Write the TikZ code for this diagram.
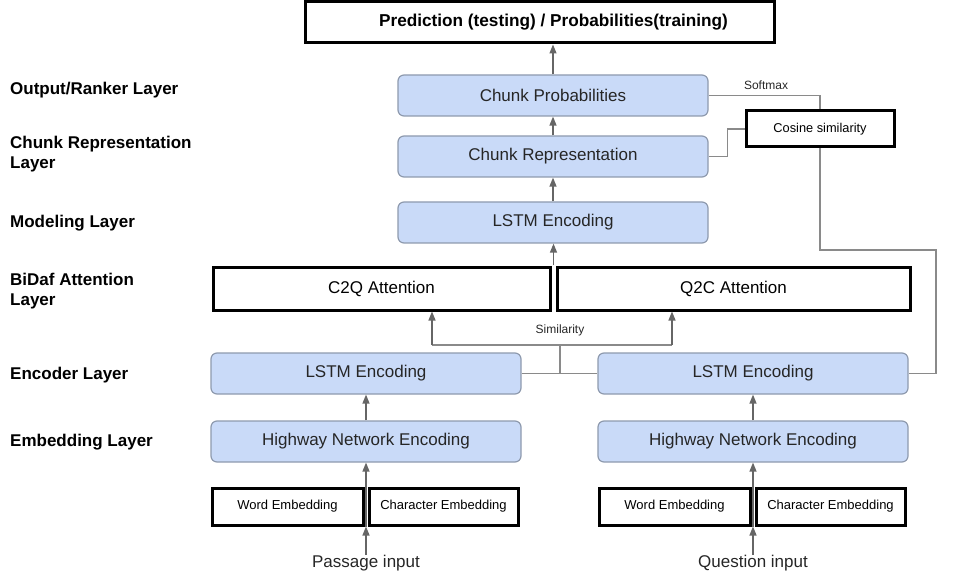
\documentclass[tikz,border=0pt]{standalone}
\usepackage{fontspec}
\setmainfont{Liberation Sans}
\usetikzlibrary{arrows.meta,calc}
\definecolor{boxblue}{HTML}{C9DAF8}
\definecolor{boxedge}{HTML}{8E9AAE}
\definecolor{arrowgray}{HTML}{666666}
\definecolor{linegray}{HTML}{8A8A8A}
\begin{document}
\begin{tikzpicture}[x=1pt,y=-1pt,
  bluebox/.style={draw=boxedge, fill=boxblue, rounded corners=6pt, line width=1.2pt, inner sep=0pt, font=\fontsize{17}{20}\selectfont, text=black!85},
  blackbox/.style={draw=black, line width=3pt, inner sep=0pt, fill=white},
  layerlabel/.style={anchor=west, align=left, font=\fontsize{17}{20}\selectfont\bfseries, inner sep=0pt},
  upArrow/.style={draw=arrowgray, line width=1.3pt, -{Triangle[length=9pt,width=7pt]}},
  link/.style={draw=linegray, line width=1.1pt},
  small/.style={font=\fontsize{12}{14}\selectfont, inner sep=0pt, text=black!85}
]
\useasboundingbox (0,0) rectangle (955,577);

% layer labels
\node[layerlabel] (l1) at (10,90) {Output/Ranker Layer};
\node[layerlabel] (l2) at (10,154) {Chunk Representation\\Layer};
\node[layerlabel] (l3) at (10,223) {Modeling Layer};
\node[layerlabel] (l4) at (10,291) {BiDaf Attention\\Layer};
\node[layerlabel] (l5) at (10,375) {Encoder Layer};
\node[layerlabel] (l6) at (10,442) {Embedding Layer};

% boxes
\node[blackbox, minimum width=469pt, minimum height=41pt, font=\fontsize{17.2}{20}\selectfont\bfseries] (pred) at (539.5,22.5) {\hspace*{28pt}Prediction (testing) / Probabilities(training)};
\node[bluebox, minimum width=310pt, minimum height=41pt] (cprob) at (553,95.5) {Chunk Probabilities};
\node[bluebox, minimum width=310pt, minimum height=41pt] (crep) at (553,156.5) {Chunk Representation};
\node[bluebox, minimum width=310pt, minimum height=41pt] (model) at (553,222.5) {LSTM Encoding};
\node[blackbox, minimum width=337pt, minimum height=43pt, font=\fontsize{17}{20}\selectfont] (c2q) at (381.5,288.5) {C2Q Attention};
\node[blackbox, minimum width=353pt, minimum height=43pt, font=\fontsize{17}{20}\selectfont] (q2c) at (733.5,288.5) {Q2C Attention};
\node[bluebox, minimum width=310pt, minimum height=41pt] (lstmL) at (366,373.5) {LSTM Encoding};
\node[bluebox, minimum width=310pt, minimum height=41pt] (lstmR) at (753,373.5) {LSTM Encoding};
\node[bluebox, minimum width=310pt, minimum height=41pt] (hwL) at (366,441.5) {Highway Network Encoding};
\node[bluebox, minimum width=310pt, minimum height=41pt] (hwR) at (753,441.5) {Highway Network Encoding};
\node[blackbox, minimum width=151pt, minimum height=37pt, font=\fontsize{13}{15}\selectfont] (wordL) at (287.5,506.5) {Word Embedding};
\node[blackbox, minimum width=149pt, minimum height=37pt, font=\fontsize{13}{15}\selectfont] (charL) at (443.5,506.5) {Character Embedding};
\node[blackbox, minimum width=151pt, minimum height=37pt, font=\fontsize{13}{15}\selectfont] (wordR) at (674.5,506.5) {Word Embedding};
\node[blackbox, minimum width=149pt, minimum height=37pt, font=\fontsize{13}{15}\selectfont] (charR) at (830.5,506.5) {Character Embedding};
\node[blackbox, minimum width=148pt, minimum height=36pt, font=\fontsize{12.8}{15}\selectfont] (cos) at (820,129) {Cosine similarity};
\node[inner sep=0pt, font=\fontsize{17}{20}\selectfont, text=black!85] (pin) at (366,563) {Passage input};
\node[inner sep=0pt, font=\fontsize{17}{20}\selectfont, text=black!85] (qin) at (753,563) {Question input};

% vertical arrows
\draw[upArrow] (cprob.north) -- (cprob.north |- pred.south);
\draw[upArrow] (crep.north) -- (cprob.south);
\draw[upArrow] (model.north) -- (crep.south);
\coordinate (attmid) at ($(c2q.north east)!.5!(q2c.north west)$);
\draw[upArrow] (attmid) -- (attmid |- model.south);
\draw[upArrow] (hwL.north) -- (lstmL.south);
\draw[upArrow] (hwR.north) -- (lstmR.south);
\coordinate (gapL) at ($(wordL.south east)!.5!(charL.south west)$);
\coordinate (gapR) at ($(wordR.south east)!.5!(charR.south west)$);
\draw[upArrow] (pin.north) -- (gapL);
\draw[upArrow] (qin.north) -- (gapR);
\draw[upArrow] (gapL) -- (gapL |- hwL.south);
\draw[upArrow] (gapR) -- (gapR |- hwR.south);

% similarity
\draw[link] (lstmL.east) -- (lstmR.west);
\coordinate (sj) at (560,373.5);
\coordinate (st) at (560,345);
\draw[link] (sj) -- (st);
\coordinate (sa) at (432,345);
\coordinate (sb) at (672,345);
\draw[link] (sa) -- (sb);
\draw[upArrow] (sa) -- (sa |- c2q.south);
\draw[upArrow] (sb) -- (sb |- q2c.south);
\node[small] (simlabel) at (560,330) {Similarity};

% softmax / cosine
\draw[link] (cprob.east) -| (cos.north);
\node[small] (smlabel) at (766,85) {Softmax};
\draw[link] (crep.east) -- ++(19,0) |- (cos.west);
\coordinate (c1) at (820,250);
\coordinate (c2) at (936,250);
\draw[link] (cos.south) -- (c1) -- (c2) |- (lstmR.east);
\end{tikzpicture}
\end{document}
